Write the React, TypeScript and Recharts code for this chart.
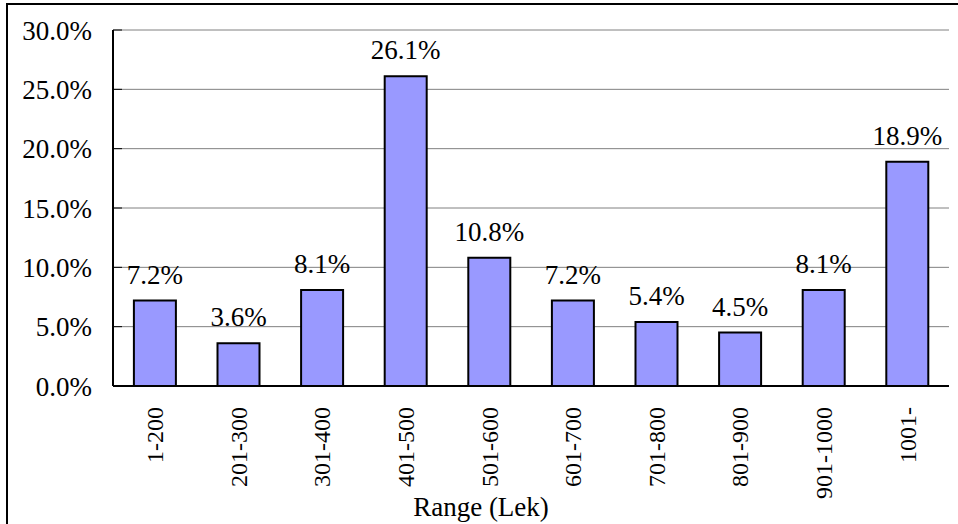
import React from "react";
import { Bar, BarChart, CartesianGrid, LabelList, ReferenceLine, XAxis, YAxis } from "recharts";

const ranges = ["1-200", "201-300", "301-400", "401-500", "501-600", "601-700", "701-800", "801-900", "901-1000", "1001-"];
const shares = [7.2, 3.6, 8.1, 26.1, 10.8, 7.2, 5.4, 4.5, 8.1, 18.9];
const yTicks = [0, 5, 10, 15, 20, 25, 30];
const boundaryTicks = [0, 1, 2, 3, 4, 5, 6, 7, 8, 9, 10];

const data = ranges.map((range, i) => ({ range, share: shares[i] }));

const FONT = "'Liberation Serif', 'Times New Roman', 'DejaVu Serif', serif";

function RotatedTick(props: any) {
  const { x, y, payload } = props;
  return (
    <text
      x={x}
      y={y}
      transform={`rotate(-90, ${x}, ${y})`}
      textAnchor="end"
      dy="0.35em"
      style={{ fontFamily: FONT, fontSize: 24, fill: "#000" }}
    >
      {payload.value}
    </text>
  );
}

export default function App() {
  return (
    <div
      style={{
        position: "absolute",
        left: 0,
        top: 0,
        width: 958,
        height: 524,
        background: "#fff",
        overflow: "hidden",
        fontFamily: FONT,
      }}
    >
      <div
        style={{
          position: "absolute",
          left: 6,
          top: 3,
          width: 960,
          height: 530,
          borderTop: "2px solid #000",
          borderLeft: "2px solid #000",
        }}
      />
      <BarChart
        width={958}
        height={524}
        data={data}
        margin={{ top: 30, right: 9, bottom: 0, left: 8 }}
        barCategoryGap="25%"
        style={{ position: "absolute", left: 0, top: 0, fontFamily: FONT }}
      >
        <CartesianGrid vertical={false} stroke="#808080" strokeWidth={1} />
        <XAxis
          xAxisId="b"
          type="number"
          domain={[0, 10]}
          ticks={boundaryTicks}
          tick={false}
          tickSize={-9}
          tickLine={{ stroke: "#000", strokeWidth: 1 }}
          axisLine={false}
          height={0}
        />
        <XAxis
          dataKey="range"
          interval={0}
          height={138}
          tickSize={0}
          tickMargin={21}
          tickLine={false}
          axisLine={{ stroke: "#000", strokeWidth: 2 }}
          tick={<RotatedTick />}
          label={{
            value: "Range (Lek)",
            position: "insideBottom",
            offset: 8,
            dx: -50,
            style: { fontFamily: FONT, fontSize: 27, fill: "#000" },
          }}
        />
        <YAxis
          domain={[0, 30]}
          ticks={yTicks}
          width={105}
          tickSize={-9}
          tickMargin={30}
          tickLine={{ stroke: "#000", strokeWidth: 1 }}
          axisLine={{ stroke: "#000", strokeWidth: 2 }}
          tickFormatter={(v: number) => `${v.toFixed(1)}%`}
          tick={{ style: { fontFamily: FONT }, fontSize: 27, fill: "#000" }}
        />
        <ReferenceLine xAxisId="b" x={10} stroke="#808080" strokeWidth={1} />
        <Bar dataKey="share" fill="#9999FF" stroke="#000" strokeWidth={2} isAnimationActive={false}>
          <LabelList
            dataKey="share"
            position="top"
            offset={17}
            formatter={(v: unknown) => `${Number(v).toFixed(1)}%`}
            style={{ fontFamily: FONT, fontSize: 27, fill: "#000" }}
          />
        </Bar>
      </BarChart>
    </div>
  );
}
